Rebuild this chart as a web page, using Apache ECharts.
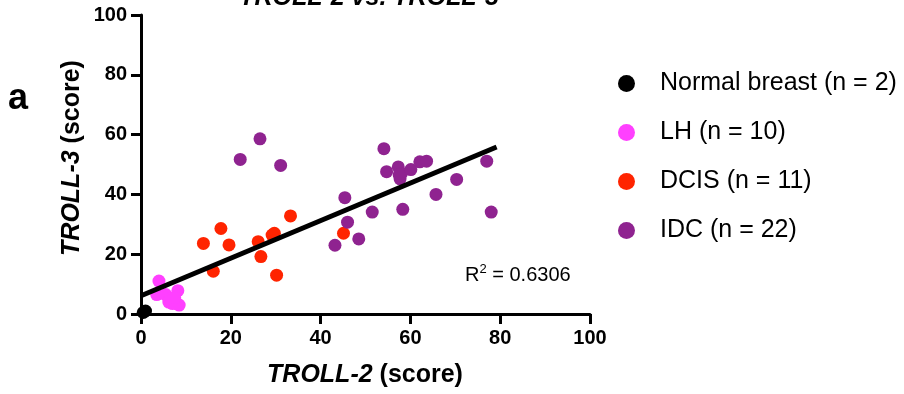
<!DOCTYPE html>
<html>
<head>
<meta charset="utf-8">
<script src="https://cdn.jsdelivr.net/npm/echarts@6/dist/echarts.min.js"></script>
<style>
html,body{margin:0;padding:0;background:#fff;}
#chart{width:904px;height:394px;}
</style>
</head>
<body>
<div id="chart"></div>
<script>
// ---- data ----
var seriesNames = ['Normal breast (n = 2)', 'LH (n = 10)', 'DCIS (n = 11)', 'IDC (n = 22)'];
var normalData = [[0.5, 0.5], [1, 1]];
var lhData = [[4, 11], [3.5, 6.5], [5.5, 6.5], [6.5, 5], [7, 3.5], [8, 3.5], [8.2, 7.8], [8.5, 3], [6.2, 4], [7.5, 5.5]];
var dcisData = [[13.9, 23.6], [17.8, 28.6], [19.6, 23.1], [16.1, 14.3], [26.1, 24.2], [26.7, 19.2], [29.7, 27], [33.3, 32.8], [30.2, 13], [45.1, 27], [29.2, 26.4]];
var idcData = [[26.5, 58.6], [22.1, 51.7], [31.1, 49.7], [45.4, 38.9], [54.1, 55.3], [54.7, 47.6], [57.3, 49.2], [57.7, 45.2], [58, 47], [60.1, 48.3], [62.1, 50.9], [63.6, 51.1], [77, 51.1], [70.3, 45], [65.7, 40], [58.3, 35], [51.5, 34.1], [78, 34.1], [46, 30.7], [48.5, 25.1], [43.2, 23], [57.5, 46.5]];
var fitIntercept = 6.1;
var fitSlope = 0.628;
var fitXMax = 79.2;
var rSquared = '0.6306';
var xTicks = [0, 20, 40, 60, 80, 100];
var yTicks = [0, 20, 40, 60, 80, 100];

var colors = ['#000000', '#FF40FF', '#FF2400', '#8F2390'];
var FONT = '"Liberation Sans", Arial, sans-serif';

var fitLine = [[0, fitIntercept], [fitXMax, fitIntercept + fitSlope * fitXMax]];

var chart = echarts.init(document.getElementById('chart'), null, {renderer: 'canvas'});

function axisCommon(ticks) {
  return {
    type: 'value',
    min: ticks[0],
    max: ticks[ticks.length - 1],
    interval: ticks[1] - ticks[0],
    axisLine: {show: true, onZero: false, lineStyle: {color: '#000', width: 3}},
    axisTick: {show: true, inside: false, length: 10, lineStyle: {color: '#000', width: 3}},
    splitLine: {show: false},
    axisLabel: {color: '#000', fontFamily: FONT, fontWeight: 'bold', fontSize: 20, margin: 14}
  };
}

var scatterSeries = [normalData, lhData, dcisData, idcData].map(function (d, i) {
  return {
    name: seriesNames[i],
    type: 'scatter',
    data: d,
    symbol: 'circle',
    symbolSize: 13,
    clip: false,
    itemStyle: {color: colors[i], opacity: 1},
    z: 2
  };
});

var nameRich = {
  i: {fontFamily: FONT, fontStyle: 'italic', fontWeight: 'bold', fontSize: 25, fill: '#000'},
  n: {fontFamily: FONT, fontWeight: 'bold', fontSize: 25, fill: '#000'}
};

var option = {
  animation: false,
  backgroundColor: '#fff',
  grid: {left: 141, top: 15, right: 314, bottom: 80, outerBoundsMode: 'none', containLabel: false},
  xAxis: axisCommon(xTicks),
  yAxis: axisCommon(yTicks),
  legend: {
    show: true,
    orient: 'vertical',
    left: 613,
    top: 66,
    itemWidth: 17,
    itemHeight: 17,
    itemGap: 24,
    icon: 'circle',
    data: seriesNames,
    textStyle: {color: '#000', fontFamily: FONT, fontSize: 25, lineHeight: 25, padding: [0, 0, 0, 20]}
  },
  graphic: [
    {
      type: 'text',
      style: {
        x: 369, y: 11, text: 'TROLL-2 vs. TROLL-3', align: 'center', verticalAlign: 'bottom',
        font: 'italic bold 25px ' + FONT, fill: '#000'
      }
    },
    {
      type: 'text',
      style: {x: 18, y: 99, text: 'a', align: 'center', verticalAlign: 'middle',
        font: 'bold 36px ' + FONT, fill: '#000'}
    },
    {
      type: 'text',
      style: {
        x: 365, y: 375, align: 'center', verticalAlign: 'middle',
        text: '{i|TROLL-2} {n|(score)}',
        rich: nameRich,
        font: 'bold 25px ' + FONT
      }
    },
    {
      type: 'text',
      x: 72, y: 158, rotation: Math.PI / 2,
      style: {
        x: 0, y: 0, align: 'center', verticalAlign: 'middle',
        text: '{i|TROLL-3} {n|(score)}',
        rich: nameRich,
        font: 'bold 25px ' + FONT
      }
    },
    {
      type: 'text',
      style: {
        x: 465, y: 275, align: 'left', verticalAlign: 'middle',
        text: 'R{s|2} = ' + rSquared,
        rich: {
          s: {fontFamily: FONT, fontSize: 13, verticalAlign: 'top', padding: [0, 0, 12, 0], fill: '#000'}
        },
        font: '20px ' + FONT, fill: '#000'
      }
    }
  ],
  series: scatterSeries.concat([{
    name: 'fit',
    type: 'line',
    data: fitLine,
    symbol: 'none',
    lineStyle: {color: '#000', width: 5},
    itemStyle: {color: '#000'},
    z: 5,
    silent: true
  }])
};
chart.setOption(option);
</script>
</body>
</html>
